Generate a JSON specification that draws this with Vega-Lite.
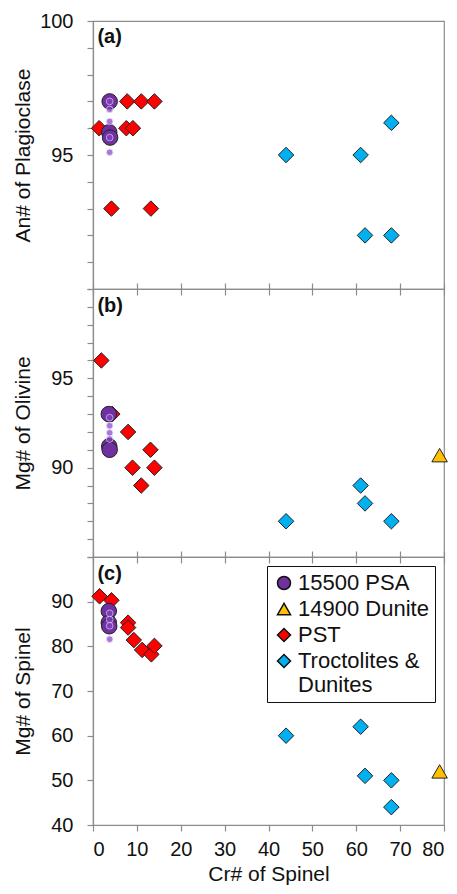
{
  "$schema": "https://vega.github.io/schema/vega-lite/v6.json",
  "padding": {"left": 11, "top": 10, "right": 5, "bottom": 5},
  "bounds": "flush",
  "config": {
    "font": "Liberation Sans",
    "view": {"stroke": "#8c8c8c", "strokeWidth": 1.2},
    "axis": {"grid": false, "domainColor": "#8c8c8c", "tickColor": "#8c8c8c", "labelColor": "#111", "titleColor": "#111", "labelFontSize": 20, "titleFontSize": 21, "titleFontWeight": "normal", "tickSize": 6, "domainWidth": 1.2, "tickWidth": 1.2, "labelOverlap": false},
    "concat": {"spacing": 0}
  },
  "datasets": {
    "pts": [
      {"panel": "a", "group": "PST", "cr": 1.4, "val": 96},
      {"panel": "a", "group": "PST", "cr": 7.8, "val": 97},
      {"panel": "a", "group": "PST", "cr": 11, "val": 97},
      {"panel": "a", "group": "PST", "cr": 14, "val": 97},
      {"panel": "a", "group": "PST", "cr": 7.6, "val": 96},
      {"panel": "a", "group": "PST", "cr": 9.1, "val": 96},
      {"panel": "a", "group": "PST", "cr": 4.2, "val": 93},
      {"panel": "a", "group": "PST", "cr": 13.2, "val": 93},
      {"panel": "a", "group": "15500 PSA", "cr": 3.8, "val": 97.0},
      {"panel": "a", "group": "15500 PSA", "cr": 3.7, "val": 95.85},
      {"panel": "a", "group": "15500 PSA", "cr": 3.9, "val": 95.65},
      {"panel": "a", "group": "Troctolites & Dunites", "cr": 44, "val": 95},
      {"panel": "a", "group": "Troctolites & Dunites", "cr": 61, "val": 95},
      {"panel": "a", "group": "Troctolites & Dunites", "cr": 68, "val": 96.2},
      {"panel": "a", "group": "Troctolites & Dunites", "cr": 62, "val": 92},
      {"panel": "a", "group": "Troctolites & Dunites", "cr": 68, "val": 92},
      {"panel": "b", "group": "PST", "cr": 1.9, "val": 96},
      {"panel": "b", "group": "PST", "cr": 4.4, "val": 93},
      {"panel": "b", "group": "PST", "cr": 8, "val": 92},
      {"panel": "b", "group": "PST", "cr": 13.1, "val": 91},
      {"panel": "b", "group": "PST", "cr": 9, "val": 90},
      {"panel": "b", "group": "PST", "cr": 14, "val": 90},
      {"panel": "b", "group": "PST", "cr": 11, "val": 89},
      {"panel": "b", "group": "15500 PSA", "cr": 3.6, "val": 93.0},
      {"panel": "b", "group": "15500 PSA", "cr": 3.7, "val": 91.2},
      {"panel": "b", "group": "15500 PSA", "cr": 3.8, "val": 91.0},
      {"panel": "b", "group": "Troctolites & Dunites", "cr": 61, "val": 89},
      {"panel": "b", "group": "Troctolites & Dunites", "cr": 62, "val": 88},
      {"panel": "b", "group": "Troctolites & Dunites", "cr": 44, "val": 87},
      {"panel": "b", "group": "Troctolites & Dunites", "cr": 68, "val": 87},
      {"panel": "b", "group": "14900 Dunite", "cr": 79, "val": 90.7},
      {"panel": "c", "group": "PST", "cr": 1.5, "val": 91.2},
      {"panel": "c", "group": "PST", "cr": 4.2, "val": 90.3},
      {"panel": "c", "group": "PST", "cr": 8, "val": 85.3},
      {"panel": "c", "group": "PST", "cr": 8, "val": 84.2},
      {"panel": "c", "group": "PST", "cr": 9.3, "val": 81.4},
      {"panel": "c", "group": "PST", "cr": 11.2, "val": 79.2},
      {"panel": "c", "group": "PST", "cr": 13.3, "val": 78.2},
      {"panel": "c", "group": "PST", "cr": 14, "val": 80.1},
      {"panel": "c", "group": "15500 PSA", "cr": 3.6, "val": 87.9},
      {"panel": "c", "group": "15500 PSA", "cr": 3.6, "val": 85.3},
      {"panel": "c", "group": "15500 PSA", "cr": 3.7, "val": 84.5},
      {"panel": "c", "group": "Troctolites & Dunites", "cr": 61, "val": 62},
      {"panel": "c", "group": "Troctolites & Dunites", "cr": 44, "val": 60},
      {"panel": "c", "group": "Troctolites & Dunites", "cr": 62, "val": 51},
      {"panel": "c", "group": "Troctolites & Dunites", "cr": 68, "val": 50},
      {"panel": "c", "group": "Troctolites & Dunites", "cr": 68, "val": 44},
      {"panel": "c", "group": "14900 Dunite", "cr": 79, "val": 52}
    ],
    "psa": [
      {"panel": "a", "cr": 3.8, "val": 97.0},
      {"panel": "a", "cr": 3.8, "val": 96.7},
      {"panel": "a", "cr": 3.8, "val": 96.25},
      {"panel": "a", "cr": 3.8, "val": 95.65},
      {"panel": "a", "cr": 3.8, "val": 95.1},
      {"panel": "b", "cr": 3.8, "val": 92.8},
      {"panel": "b", "cr": 3.8, "val": 92.35},
      {"panel": "b", "cr": 3.8, "val": 91.95},
      {"panel": "b", "cr": 3.8, "val": 91.6},
      {"panel": "c", "cr": 3.8, "val": 87.4},
      {"panel": "c", "cr": 3.8, "val": 86.0},
      {"panel": "c", "cr": 3.8, "val": 84.6},
      {"panel": "c", "cr": 3.8, "val": 81.6}
    ]
  },
  "resolve": {"legend": {"color": "independent", "shape": "independent"}},
  "vconcat": [
    {
      "width": 351, "height": 268,
      "layer": [
        {
          "data": {"name": "pts"},
          "transform": [{"filter": "datum.panel == 'a'"}],
          "mark": {"type": "point", "filled": true, "size": 240, "stroke": "#222", "strokeWidth": 1, "opacity": 1},
          "encoding": {
            "x": {"field": "cr", "type": "quantitative", "scale": {"domain": [0, 80], "nice": false}, "axis": {"title": null, "labels": false, "domain": false, "values": [0,10,20,30,40,50,60,70,80], "tickCount": 20, "tickSize": 12, "offset": -6}},
            "y": {"field": "val", "type": "quantitative", "scale": {"domain": [90, 100], "nice": false, "zero": false}, "axis": {"title": "An# of Plagioclase", "values": [90,91,92,93,94,95,96,97,98,99,100], "tickCount": 30, "format": "d", "labelExpr": "datum.value == 95 || datum.value == 100 ? datum.label : ''", "labelOverlap": false, "labelPadding": 14, "titleX": -60}},
            "color": {"field": "group", "type": "nominal", "scale": {"domain": ["15500 PSA", "14900 Dunite", "PST", "Troctolites & Dunites"], "range": ["#7030A0", "#FFC000", "#FF0000", "#00B0F0"]}, "legend": null},
            "shape": {"field": "group", "type": "nominal", "scale": {"domain": ["15500 PSA", "14900 Dunite", "PST", "Troctolites & Dunites"], "range": ["circle", "triangle-up", "diamond", "diamond"]}, "legend": null}
          }
        },
        {
          "data": {"name": "psa"},
          "transform": [{"filter": "datum.panel == 'a'"}],
          "mark": {"type": "point", "filled": true, "size": 45, "color": "#8540C8", "stroke": "#E6D2F5", "strokeWidth": 1},
          "encoding": {"x": {"field": "cr", "type": "quantitative"}, "y": {"field": "val", "type": "quantitative"}}
        },
        {
          "data": {"values": [{}]},
          "mark": {"type": "text", "align": "left", "baseline": "middle", "fontWeight": "bold", "fontSize": 20, "color": "#111"},
          "encoding": {"x": {"datum": 1}, "y": {"datum": 99.4}, "text": {"value": "(a)"}}
        }
      ]
    },
    {
      "width": 351, "height": 268,
      "layer": [
        {
          "data": {"name": "pts"},
          "transform": [{"filter": "datum.panel == 'b'"}],
          "mark": {"type": "point", "filled": true, "size": 240, "stroke": "#222", "strokeWidth": 1, "opacity": 1},
          "encoding": {
            "x": {"field": "cr", "type": "quantitative", "scale": {"domain": [0, 80], "nice": false}, "axis": {"title": null, "labels": false, "domain": false, "values": [0,10,20,30,40,50,60,70,80], "tickCount": 20, "tickSize": 12, "offset": -6}},
            "y": {"field": "val", "type": "quantitative", "scale": {"domain": [85, 100], "nice": false, "zero": false}, "axis": {"title": "Mg# of Olivine", "values": [85,86,87,88,89,90,91,92,93,94,95,96,97,98,99,100], "tickCount": 30, "format": "d", "labelExpr": "datum.value == 95 || datum.value == 90 ? datum.label : ''", "labelOverlap": false, "labelPadding": 14, "titleX": -60}},
            "color": {"field": "group", "type": "nominal", "scale": {"domain": ["15500 PSA", "14900 Dunite", "PST", "Troctolites & Dunites"], "range": ["#7030A0", "#FFC000", "#FF0000", "#00B0F0"]}, "legend": null},
            "shape": {"field": "group", "type": "nominal", "scale": {"domain": ["15500 PSA", "14900 Dunite", "PST", "Troctolites & Dunites"], "range": ["circle", "triangle-up", "diamond", "diamond"]}, "legend": null}
          }
        },
        {
          "data": {"name": "psa"},
          "transform": [{"filter": "datum.panel == 'b'"}],
          "mark": {"type": "point", "filled": true, "size": 45, "color": "#8540C8", "stroke": "#E6D2F5", "strokeWidth": 1},
          "encoding": {"x": {"field": "cr", "type": "quantitative"}, "y": {"field": "val", "type": "quantitative"}}
        },
        {
          "data": {"values": [{}]},
          "mark": {"type": "text", "align": "left", "baseline": "middle", "fontWeight": "bold", "fontSize": 20, "color": "#111"},
          "encoding": {"x": {"datum": 1}, "y": {"datum": 99.05}, "text": {"value": "(b)"}}
        }
      ]
    },
    {
      "width": 351, "height": 268,
      "layer": [
        {
          "data": {"name": "pts"},
          "transform": [{"filter": "datum.panel == 'c'"}],
          "mark": {"type": "point", "filled": true, "size": 240, "stroke": "#222", "strokeWidth": 1, "opacity": 1},
          "encoding": {
            "x": {"field": "cr", "type": "quantitative", "scale": {"domain": [0, 80], "nice": false}, "axis": {"title": "Cr# of Spinel", "values": [0,10,20,30,40,50,60,70,80], "tickCount": 20, "format": "d", "labelPadding": 8, "titlePadding": 4}},
            "y": {"field": "val", "type": "quantitative", "scale": {"domain": [40, 100], "nice": false, "zero": false}, "axis": {"title": "Mg# of Spinel", "values": [40,50,60,70,80,90,100], "tickCount": 20, "format": "d", "labelExpr": "datum.value == 100 ? '' : datum.label", "labelOverlap": false, "labelPadding": 14, "titleX": -60}},
            "color": {"field": "group", "type": "nominal", "scale": {"domain": ["15500 PSA", "14900 Dunite", "PST", "Troctolites & Dunites"], "range": ["#7030A0", "#FFC000", "#FF0000", "#00B0F0"]},
              "legend": {"title": null, "orient": "top-right", "offset": 9, "strokeColor": "#111", "fillColor": "white", "padding": 6, "labelFontSize": 22, "labelColor": "#111", "symbolSize": 170, "symbolStrokeColor": "#111", "symbolStrokeWidth": 1.5, "rowPadding": 4, "labelLimit": 300, "labelOffset": 3,
                "labelExpr": "datum.label == 'Troctolites & Dunites' ? ['Troctolites &', 'Dunites'] : datum.label"}},
            "shape": {"field": "group", "type": "nominal", "scale": {"domain": ["15500 PSA", "14900 Dunite", "PST", "Troctolites & Dunites"], "range": ["circle", "triangle-up", "diamond", "diamond"]},
              "legend": {"title": null, "orient": "top-right", "offset": 9, "strokeColor": "#111", "fillColor": "white", "padding": 6, "labelFontSize": 22, "labelColor": "#111", "symbolSize": 170, "symbolStrokeColor": "#111", "symbolStrokeWidth": 1.5, "rowPadding": 4, "labelLimit": 300, "labelOffset": 3,
                "labelExpr": "datum.label == 'Troctolites & Dunites' ? ['Troctolites &', 'Dunites'] : datum.label"}}
          }
        },
        {
          "data": {"name": "psa"},
          "transform": [{"filter": "datum.panel == 'c'"}],
          "mark": {"type": "point", "filled": true, "size": 45, "color": "#8540C8", "stroke": "#E6D2F5", "strokeWidth": 1},
          "encoding": {"x": {"field": "cr", "type": "quantitative"}, "y": {"field": "val", "type": "quantitative"}}
        },
        {
          "data": {"values": [{}]},
          "mark": {"type": "text", "align": "left", "baseline": "middle", "fontWeight": "bold", "fontSize": 20, "color": "#111"},
          "encoding": {"x": {"datum": 1}, "y": {"datum": 96.1}, "text": {"value": "(c)"}}
        }
      ]
    }
  ]
}
